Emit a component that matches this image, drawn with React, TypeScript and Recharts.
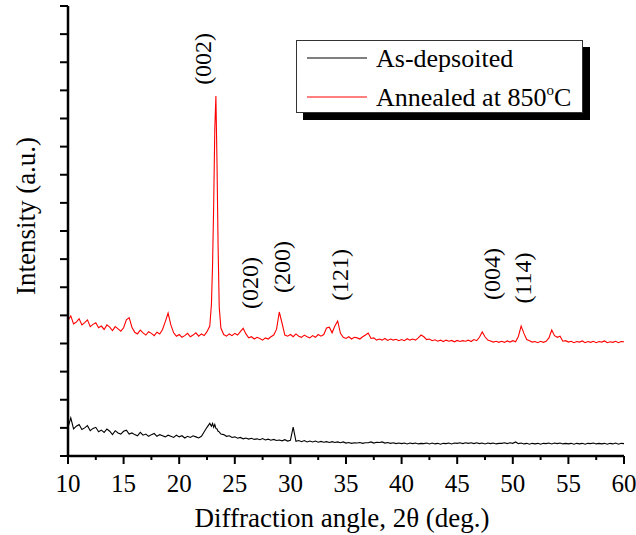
import * as React from "react"
import { Label, Line, LineChart, ReferenceDot, XAxis, YAxis } from "recharts"

const FONT = '"Liberation Serif", "Times New Roman", serif'

// 2θ positions (deg.), finer around the (002) reflection
const angles = [
  10, 10.25, 10.5, 10.75,
  11, 11.25, 11.5, 11.75,
  12, 12.25, 12.5, 12.75,
  13, 13.25, 13.5, 13.75,
  14, 14.25, 14.5, 14.75,
  15, 15.25, 15.5, 15.75,
  16, 16.25, 16.5, 16.75,
  17, 17.25, 17.5, 17.75,
  18, 18.25, 18.5, 18.75,
  19, 19.25, 19.5, 19.75,
  20, 20.25, 20.5, 20.75,
  21, 21.25, 21.5, 21.75,
  22, 22.25, 22.5, 22.75,
  22.9, 23, 23.1, 23.2, 23.3, 23.4, 23.5, 23.6, 23.75,
  24, 24.25, 24.5, 24.75,
  25, 25.25, 25.5, 25.75,
  26, 26.25, 26.5, 26.75,
  27, 27.25, 27.5, 27.75,
  28, 28.25, 28.5, 28.75,
  29, 29.25, 29.5, 29.75,
  30, 30.25, 30.5, 30.75,
  31, 31.25, 31.5, 31.75,
  32, 32.25, 32.5, 32.75,
  33, 33.25, 33.5, 33.75,
  34, 34.25, 34.5, 34.75,
  35, 35.25, 35.5, 35.75,
  36, 36.25, 36.5, 36.75,
  37, 37.25, 37.5, 37.75,
  38, 38.25, 38.5, 38.75,
  39, 39.25, 39.5, 39.75,
  40, 40.25, 40.5, 40.75,
  41, 41.25, 41.5, 41.75,
  42, 42.25, 42.5, 42.75,
  43, 43.25, 43.5, 43.75,
  44, 44.25, 44.5, 44.75,
  45, 45.25, 45.5, 45.75,
  46, 46.25, 46.5, 46.75,
  47, 47.25, 47.5, 47.75,
  48, 48.25, 48.5, 48.75,
  49, 49.25, 49.5, 49.75,
  50, 50.25, 50.5, 50.75,
  51, 51.25, 51.5, 51.75,
  52, 52.25, 52.5, 52.75,
  53, 53.25, 53.5, 53.75,
  54, 54.25, 54.5, 54.75,
  55, 55.25, 55.5, 55.75,
  56, 56.25, 56.5, 56.75,
  57, 57.25, 57.5, 57.75,
  58, 58.25, 58.5, 58.75,
  59, 59.25, 59.5, 59.75,
  60,
]

const asDeposited = [
  1.02, 1.36, 0.96, 1.06,
  1.12, 0.94, 1.0, 1.08,
  0.9, 0.98, 1.02, 0.86,
  0.92, 0.84, 0.96, 0.88,
  0.76, 0.9, 0.82, 0.78,
  0.88, 0.92, 0.78, 0.82,
  0.76, 0.72, 0.84, 0.74,
  0.78, 0.7, 0.76, 0.8,
  0.7, 0.76, 0.72, 0.68,
  0.74, 0.7, 0.66, 0.74,
  0.68, 0.72, 0.64, 0.7,
  0.66, 0.72, 0.68, 0.64,
  0.7, 0.86, 1.02, 1.16,
  1.06, 1.16, 1.02, 1.12, 0.98, 0.96, 0.88, 0.86, 0.78,
  0.76, 0.7, 0.72, 0.66,
  0.68, 0.63, 0.66, 0.61,
  0.64, 0.6, 0.63, 0.59,
  0.61, 0.58, 0.62, 0.57,
  0.6, 0.56, 0.59, 0.55,
  0.57, 0.54, 0.58, 0.53,
  0.56, 1.03, 0.52, 0.55,
  0.51, 0.55, 0.5, 0.53,
  0.5, 0.53, 0.49, 0.52,
  0.49, 0.51, 0.48, 0.51,
  0.48, 0.5, 0.47, 0.5,
  0.46, 0.48, 0.45, 0.47,
  0.46, 0.48, 0.45, 0.47,
  0.47, 0.5, 0.46, 0.49,
  0.48, 0.5, 0.46, 0.48,
  0.45, 0.47, 0.44, 0.46,
  0.44, 0.46, 0.43, 0.46,
  0.44, 0.46, 0.43, 0.45,
  0.44, 0.46, 0.43, 0.46,
  0.43, 0.45, 0.42, 0.45,
  0.44, 0.46, 0.43, 0.46,
  0.45, 0.47, 0.44, 0.47,
  0.45, 0.47, 0.44, 0.47,
  0.44, 0.46, 0.43, 0.46,
  0.44, 0.46, 0.43, 0.45,
  0.45, 0.47, 0.44, 0.47,
  0.45, 0.5, 0.44, 0.46,
  0.43, 0.45, 0.42, 0.45,
  0.43, 0.45, 0.42, 0.45,
  0.44, 0.46, 0.43, 0.46,
  0.44, 0.46, 0.43, 0.45,
  0.43, 0.45, 0.42, 0.45,
  0.43, 0.45, 0.42, 0.45,
  0.44, 0.46, 0.43, 0.45,
  0.43, 0.45, 0.42, 0.45,
  0.43, 0.46, 0.42, 0.45,
  0.44,
]

const annealed = [
  4.82, 4.98, 4.7, 4.76,
  4.88, 4.66, 4.74, 4.84,
  4.6, 4.68, 4.74, 4.56,
  4.62, 4.5, 4.66, 4.58,
  4.46, 4.6, 4.52, 4.44,
  4.56, 4.84, 4.92, 4.58,
  4.4, 4.34, 4.48, 4.38,
  4.3, 4.42, 4.36, 4.28,
  4.4, 4.34, 4.5, 4.78,
  5.08, 4.66, 4.38, 4.26,
  4.32, 4.22, 4.28, 4.36,
  4.24, 4.3, 4.38, 4.26,
  4.34, 4.28, 4.42, 4.62,
  5.4, 6.8, 8.9, 11.6, 12.8, 10.4, 7.4, 5.3, 4.55,
  4.32, 4.26, 4.34, 4.28,
  4.36, 4.3, 4.42, 4.54,
  4.34, 4.2, 4.24, 4.16,
  4.22, 4.18, 4.12, 4.2,
  4.16, 4.24, 4.3, 4.5,
  5.12, 4.72, 4.3, 4.26,
  4.32, 4.24, 4.34, 4.26,
  4.22, 4.3, 4.24, 4.2,
  4.28, 4.22, 4.32, 4.26,
  4.32, 4.55, 4.58, 4.38,
  4.62, 4.8, 4.36, 4.22,
  4.18, 4.24, 4.16, 4.22,
  4.2, 4.16, 4.24, 4.3,
  4.37, 4.18, 4.2, 4.12,
  4.16, 4.12, 4.18, 4.11,
  4.16, 4.12, 4.15, 4.1,
  4.14, 4.1, 4.17, 4.12,
  4.16, 4.12, 4.2, 4.3,
  4.24, 4.14, 4.16, 4.1,
  4.13, 4.08, 4.12, 4.07,
  4.12, 4.08, 4.11, 4.06,
  4.11, 4.07, 4.1, 4.08,
  4.12, 4.07, 4.14, 4.1,
  4.22, 4.41, 4.24, 4.12,
  4.09, 4.05, 4.08, 4.04,
  4.08, 4.04, 4.09, 4.05,
  4.1, 4.06, 4.25, 4.62,
  4.36, 4.14, 4.1, 4.05,
  4.07, 4.03, 4.08, 4.04,
  4.08, 4.2, 4.48, 4.28,
  4.22, 4.26, 4.08, 4.1,
  4.05, 4.08, 4.03, 4.07,
  4.05, 4.09, 4.03, 4.07,
  4.04, 4.08, 4.03, 4.07,
  4.05, 4.09, 4.03, 4.06,
  4.04, 4.08, 4.03, 4.07,
  4.06,
]

const xTicks = [10, 12.5, 15, 17.5, 20, 22.5, 25, 27.5, 30, 32.5, 35, 37.5, 40, 42.5, 45, 47.5, 50, 52.5, 55, 57.5, 60]
const yTicks = [0, 1, 2, 3, 4, 5, 6, 7, 8, 9, 10, 11, 12, 13, 14, 15, 16]

const peakLabels = ["(002)", "(020)", "(200)", "(121)", "(004)", "(114)"]
const peakAngles = [22.14, 26.37, 29.24, 34.46, 48.13, 50.92]
const peakHeights = [14.12, 6.15, 6.72, 6.44, 6.47, 6.33]

const data = angles.map((angle, i) => ({
  angle,
  asDeposited: asDeposited[i],
  annealed: annealed[i],
}))

const textStyle = { fontFamily: FONT }

function AngleTick({ x, y, payload }: any) {
  const major = payload.value % 5 === 0
  return (
    <g>
      <line x1={x} x2={x} y1={y} y2={y + (major ? 8 : 4)} stroke="#000" strokeWidth={2} />
      {major && (
        <text x={x} y={y + 36} textAnchor="middle" fontSize={25} style={textStyle} fill="#000">
          {payload.value}
        </text>
      )}
    </g>
  )
}

function PeakLabel({ cx, cy, text }: any) {
  return (
    <text
      x={cx}
      y={cy}
      dy="0.35em"
      textAnchor="middle"
      fontSize={24}
      style={textStyle}
      fill="#000"
      transform={`rotate(-90, ${cx}, ${cy})`}
    >
      {text}
    </text>
  )
}

function LegendBox() {
  return (
    <svg
      width={300}
      height={84}
      style={{ position: "absolute", left: 296, top: 40, overflow: "visible" }}
    >
      <rect x={7} y={7} width={287} height={73} fill="#000" />
      <rect x={0.5} y={0.5} width={286} height={72} fill="#fff" stroke="#333" strokeWidth={1} />
      <line x1={11} x2={71} y1={18} y2={18} stroke="#000" strokeWidth={1} />
      <text x={80} y={27} fontSize={26} style={textStyle} fill="#000">As-depsoited</text>
      <line x1={11} x2={71} y1={57} y2={57} stroke="#ff0000" strokeWidth={1} />
      <text x={80} y={66} fontSize={26} style={textStyle} fill="#000">
        Annealed at 850<tspan dy={-11} fontSize={15}>o</tspan>
        <tspan dy={11}>C</tspan>
      </text>
    </svg>
  )
}

export default function App() {
  return (
    <div style={{ position: "absolute", left: 0, top: 0, width: 636, height: 535, background: "#fff" }}>
      <LineChart width={636} height={535} data={data} margin={{ top: 6, right: 12, bottom: 0, left: 0 }}>
        <XAxis
          dataKey="angle"
          type="number"
          domain={[10, 60]}
          ticks={xTicks}
          interval={0}
          height={79}
          tickLine={false}
          tickSize={0}
          tickMargin={0}
          tick={<AngleTick />}
          axisLine={{ stroke: "#000", strokeWidth: 2.5 }}
        >
          <Label
            content={() => (
              <text x={342} y={527} textAnchor="middle" fontSize={27} style={textStyle} fill="#000">
                Diffraction angle, 2θ (deg.)
              </text>
            )}
          />
        </XAxis>
        <XAxis
          xAxisId="top"
          orientation="top"
          type="number"
          domain={[10, 60]}
          height={0}
          tick={false}
          tickLine={false}
          axisLine={{ stroke: "#000", strokeWidth: 1.5 }}
        />
        <YAxis
          type="number"
          domain={[0, 16]}
          ticks={yTicks}
          interval={0}
          width={68}
          tickSize={8}
          tickFormatter={() => ""}
          tickLine={{ stroke: "#000", strokeWidth: 2 }}
          axisLine={{ stroke: "#000", strokeWidth: 2.5 }}
          allowDataOverflow
        >
          <Label
            content={() => (
              <text
                x={35}
                y={216}
                textAnchor="middle"
                fontSize={27}
                style={textStyle}
                fill="#000"
                transform="rotate(-90, 35, 216)"
              >
                Intensity (a.u.)
              </text>
            )}
          />
        </YAxis>
        <YAxis
          yAxisId="right"
          orientation="right"
          type="number"
          domain={[0, 16]}
          width={0}
          tick={false}
          tickLine={false}
          axisLine={{ stroke: "#000", strokeWidth: 1.5 }}
        />
        <Line
          type="linear"
          dataKey="asDeposited"
          stroke="#000"
          strokeWidth={1.1}
          dot={false}
          isAnimationActive={false}
        />
        <Line
          type="linear"
          dataKey="annealed"
          stroke="#ff0000"
          strokeWidth={1.1}
          dot={false}
          isAnimationActive={false}
        />
        {peakLabels.map((label, i) => (
          <ReferenceDot
            key={label}
            x={peakAngles[i]}
            y={peakHeights[i]}
            r={1}
            shape={(p: any) => <PeakLabel cx={p.cx} cy={p.cy} text={label} />}
          />
        ))}
      </LineChart>
      <LegendBox />
    </div>
  )
}
